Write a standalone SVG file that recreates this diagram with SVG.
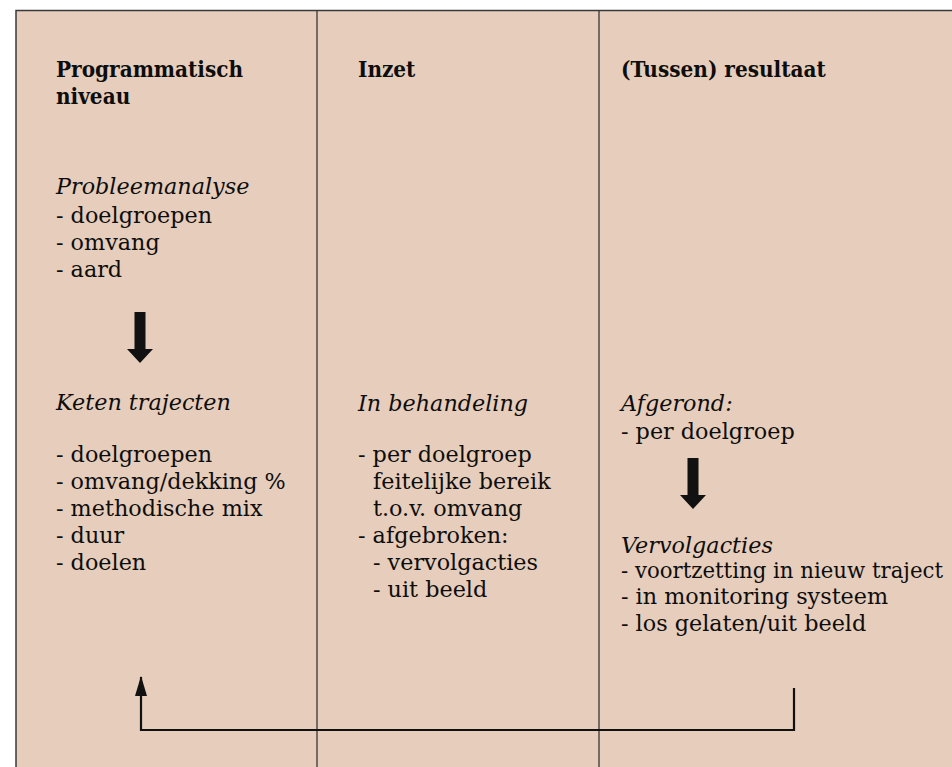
<svg xmlns="http://www.w3.org/2000/svg" width="952" height="767" viewBox="0 0 952 767">
<style>
text{font-family:"DejaVu Serif","Liberation Serif",serif;font-size:22.3px;fill:#0d0d0d;}
.h{font-family:"DejaVu Serif Condensed","DejaVu Serif",serif;font-stretch:condensed;font-weight:bold;}
.i{font-style:italic;}
.div{stroke:#2a2a2a;stroke-width:1.2;}
.con{fill:none;stroke:#111;stroke-width:2.2;}
</style>
<defs>
<marker id="ah" markerWidth="20" markerHeight="12" refX="19" refY="6" orient="auto" markerUnits="userSpaceOnUse" viewBox="0 0 20 12"><path d="M0,0 L20,6 L0,12 Z" fill="#111"/></marker>
<path id="bigArrow" d="M-5.5,0 H5.5 V37 H13 L0,51 L-13,37 H-5.5 Z" fill="#111"/>
</defs>
<rect x="0" y="0" width="952" height="767" fill="#ffffff"/>
<rect x="16" y="10.5" width="950" height="770" fill="#E7CDBB" stroke="#3a3a3a" stroke-width="1.5"/>
<g id="dividers">
<line class="div" x1="317" y1="11" x2="317" y2="767"/>
<line class="div" x1="599" y1="11" x2="599" y2="767"/>
</g>
<g id="col-programmatisch">
<text class="h" x="56" y="77">Programmatisch</text>
<text class="h" x="56" y="104">niveau</text>
<text class="i" x="56" y="194">Probleemanalyse</text>
<text x="56" y="223">- doelgroepen</text>
<text x="56" y="250">- omvang</text>
<text x="56" y="277">- aard</text>
<use href="#bigArrow" x="140" y="312"/>
<text class="i" x="56" y="410">Keten trajecten</text>
<text x="56" y="462">- doelgroepen</text>
<text x="56" y="489">- omvang/dekking %</text>
<text x="56" y="516">- methodische mix</text>
<text x="56" y="543">- duur</text>
<text x="56" y="570">- doelen</text>
</g>
<g id="col-inzet">
<text class="h" x="358" y="77">Inzet</text>
<text class="i" x="358" y="411">In behandeling</text>
<text x="358" y="462">- per doelgroep</text>
<text x="373" y="489">feitelijke bereik</text>
<text x="373" y="516">t.o.v. omvang</text>
<text x="358" y="543">- afgebroken:</text>
<text x="373" y="570">- vervolgacties</text>
<text x="373" y="597">- uit beeld</text>
</g>
<g id="col-resultaat">
<text class="h" x="621" y="77">(Tussen) resultaat</text>
<text class="i" x="621" y="411">Afgerond:</text>
<text x="621" y="439">- per doelgroep</text>
<use href="#bigArrow" x="693" y="458"/>
<text class="i" x="621" y="553">Vervolgacties</text>
<text x="621" y="578" textLength="322" lengthAdjust="spacingAndGlyphs">- voortzetting in nieuw traject</text>
<text x="621" y="604">- in monitoring systeem</text>
<text x="621" y="631">- los gelaten/uit beeld</text>
</g>
<g id="connectors">
<path class="con" d="M794,688 V730 H141 V677" marker-end="url(#ah)"/>
</g>
</svg>
